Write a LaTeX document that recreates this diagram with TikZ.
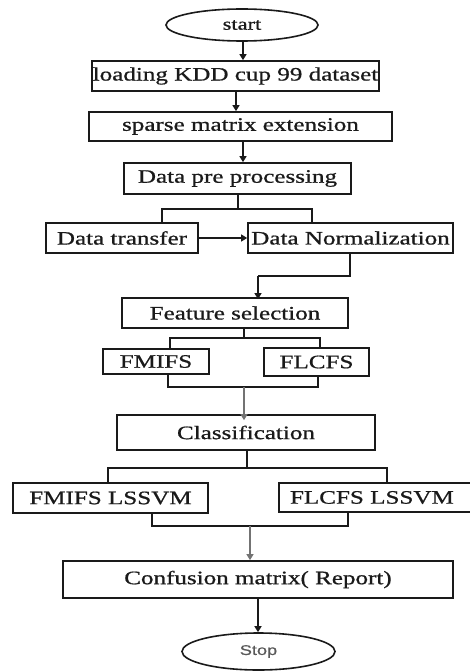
\documentclass[tikz,border=0pt]{standalone}
\usepackage{fontspec}
\usetikzlibrary{arrows.meta,shapes.geometric}
\newfontfamily\rmf[FakeStretch=1.32,FakeBold=0.8]{Liberation Serif}
\newfontfamily\sff[FakeStretch=1.3,FakeBold=0.6]{Liberation Sans}
\definecolor{ink}{HTML}{1A1A1A}
\tikzset{
  box/.style={draw=ink, line width=1.7pt, rectangle, inner sep=0pt, text=ink,
    font=\rmf\fontsize{19}{22}\selectfont},
  term/.style={draw=ink, line width=1.6pt, ellipse, inner sep=0pt, text=ink},
  bar/.style={draw=ink, line width=1.7pt},
  arr/.style={draw=ink, line width=1.4pt, -{Triangle[length=6pt,width=7pt]}},
  garr/.style={draw=black!55, line width=1.1pt, -{Triangle[length=6pt,width=7pt]}}
}
\begin{document}
\begin{tikzpicture}[x=1pt,y=-1pt]
\useasboundingbox (0,0) rectangle (469,671);
\fill[white] (0,0) rectangle (469,671);

\node[term, minimum width=152pt, minimum height=32pt, font=\rmf\fontsize{17}{20}\selectfont] (start) at (242,25) {start};
\node[box, minimum width=287pt, minimum height=30pt] (load) at (235.5,76) {loading KDD cup 99 dataset};
\node[box, minimum width=303pt, minimum height=29pt] (sparse) at (240.5,126.5) {sparse matrix extension};
\node[box, minimum width=227pt, minimum height=31pt] (pre) at (237.5,178.5) {Data pre processing};
\node[box, minimum width=152pt, minimum height=30pt] (trans) at (122,238) {Data transfer};
\node[box, minimum width=205pt, minimum height=30pt] (norm) at (350.5,238) {Data Normalization};
\node[box, minimum width=226pt, minimum height=30pt] (feat) at (235,313) {Feature selection};
\node[box, minimum width=106pt, minimum height=25pt] (fmifs) at (156,361.5) {FMIFS};
\node[box, minimum width=105pt, minimum height=28pt] (flcfs) at (316.5,362) {FLCFS};
\node[box, minimum width=258pt, minimum height=35pt] (class) at (246,432.5) {Classification};
\node[box, minimum width=195pt, minimum height=30pt] (fl1) at (110.5,498) {FMIFS LSSVM};
\node[box, minimum width=200pt, minimum height=29pt, text width=200pt, align=left] (fl2) at (379,497.5) {\hspace*{11pt}FLCFS LSSVM};
\node[box, minimum width=390pt, minimum height=37pt] (conf) at (258,579.5) {Confusion matrix( Report)};
\node[term, minimum width=153pt, minimum height=37pt, font=\sff\fontsize{14}{17}\selectfont, text=black!65] (stop) at (258.5,651.5) {Stop};

% straight arrows
\coordinate (a1) at (243,0);
\draw[arr] (start.south -| a1) -- (a1 |- load.north);
\coordinate (a2) at (236,0);
\draw[arr] (load.south -| a2) -- (a2 |- sparse.north);
\coordinate (a3) at (243,0);
\draw[arr] (sparse.south -| a3) -- (a3 |- pre.north);

% pre processing split
\coordinate (p0) at (238,209);
\coordinate (pL) at (162,209);
\coordinate (pR) at (312,209);
\draw[bar] (pre.south -| p0) -- (p0);
\draw[bar] (trans.north -| pL) -- (pL) -- (pR) -- (norm.north -| pR);
\draw[arr, line width=1.1pt] (trans.east) -- (norm.west);

% normalization to feature selection
\coordinate (n1) at (350,276);
\coordinate (n2) at (258,276);
\draw[draw=ink, line width=1.1pt] (norm.south -| n1) -- (n1) -- (n2);
\draw[arr, line width=1.1pt] (n2) -- ([yshift=-2pt]n2 |- feat.north);

% feature selection split
\coordinate (f0) at (244,338);
\coordinate (fL) at (170,338);
\coordinate (fR) at (320,338);
\draw[bar] (feat.south -| f0) -- (f0);
\draw[bar] (fmifs.north -| fL) -- (fL) -- (fR) -- (flcfs.north -| fR);

% join to classification
\coordinate (jL) at (168,387);
\coordinate (jR) at (318,387);
\coordinate (jM) at (244,387);
\draw[bar] (fmifs.south -| jL) -- (jL) -- (jR) -- (flcfs.south -| jR);
\draw[garr] (jM) -- ([yshift=-6pt]jM |- class.north);

% classification split
\coordinate (c0) at (247,468);
\coordinate (cL) at (108,468);
\coordinate (cR) at (387,468);
\draw[bar] (class.south -| c0) -- (c0);
\draw[bar] (fl1.north -| cL) -- (cL) -- (cR) -- (fl2.north -| cR);

% join to confusion
\coordinate (kL) at (152,526);
\coordinate (kR) at (348,526);
\coordinate (kM) at (250,526);
\draw[bar] (fl1.south -| kL) -- (kL) -- (kR) -- (fl2.south -| kR);
\draw[garr] (kM) -- (kM |- conf.north);

\draw[arr] (conf.south) -- (conf.south |- stop.north);
\end{tikzpicture}
\end{document}
